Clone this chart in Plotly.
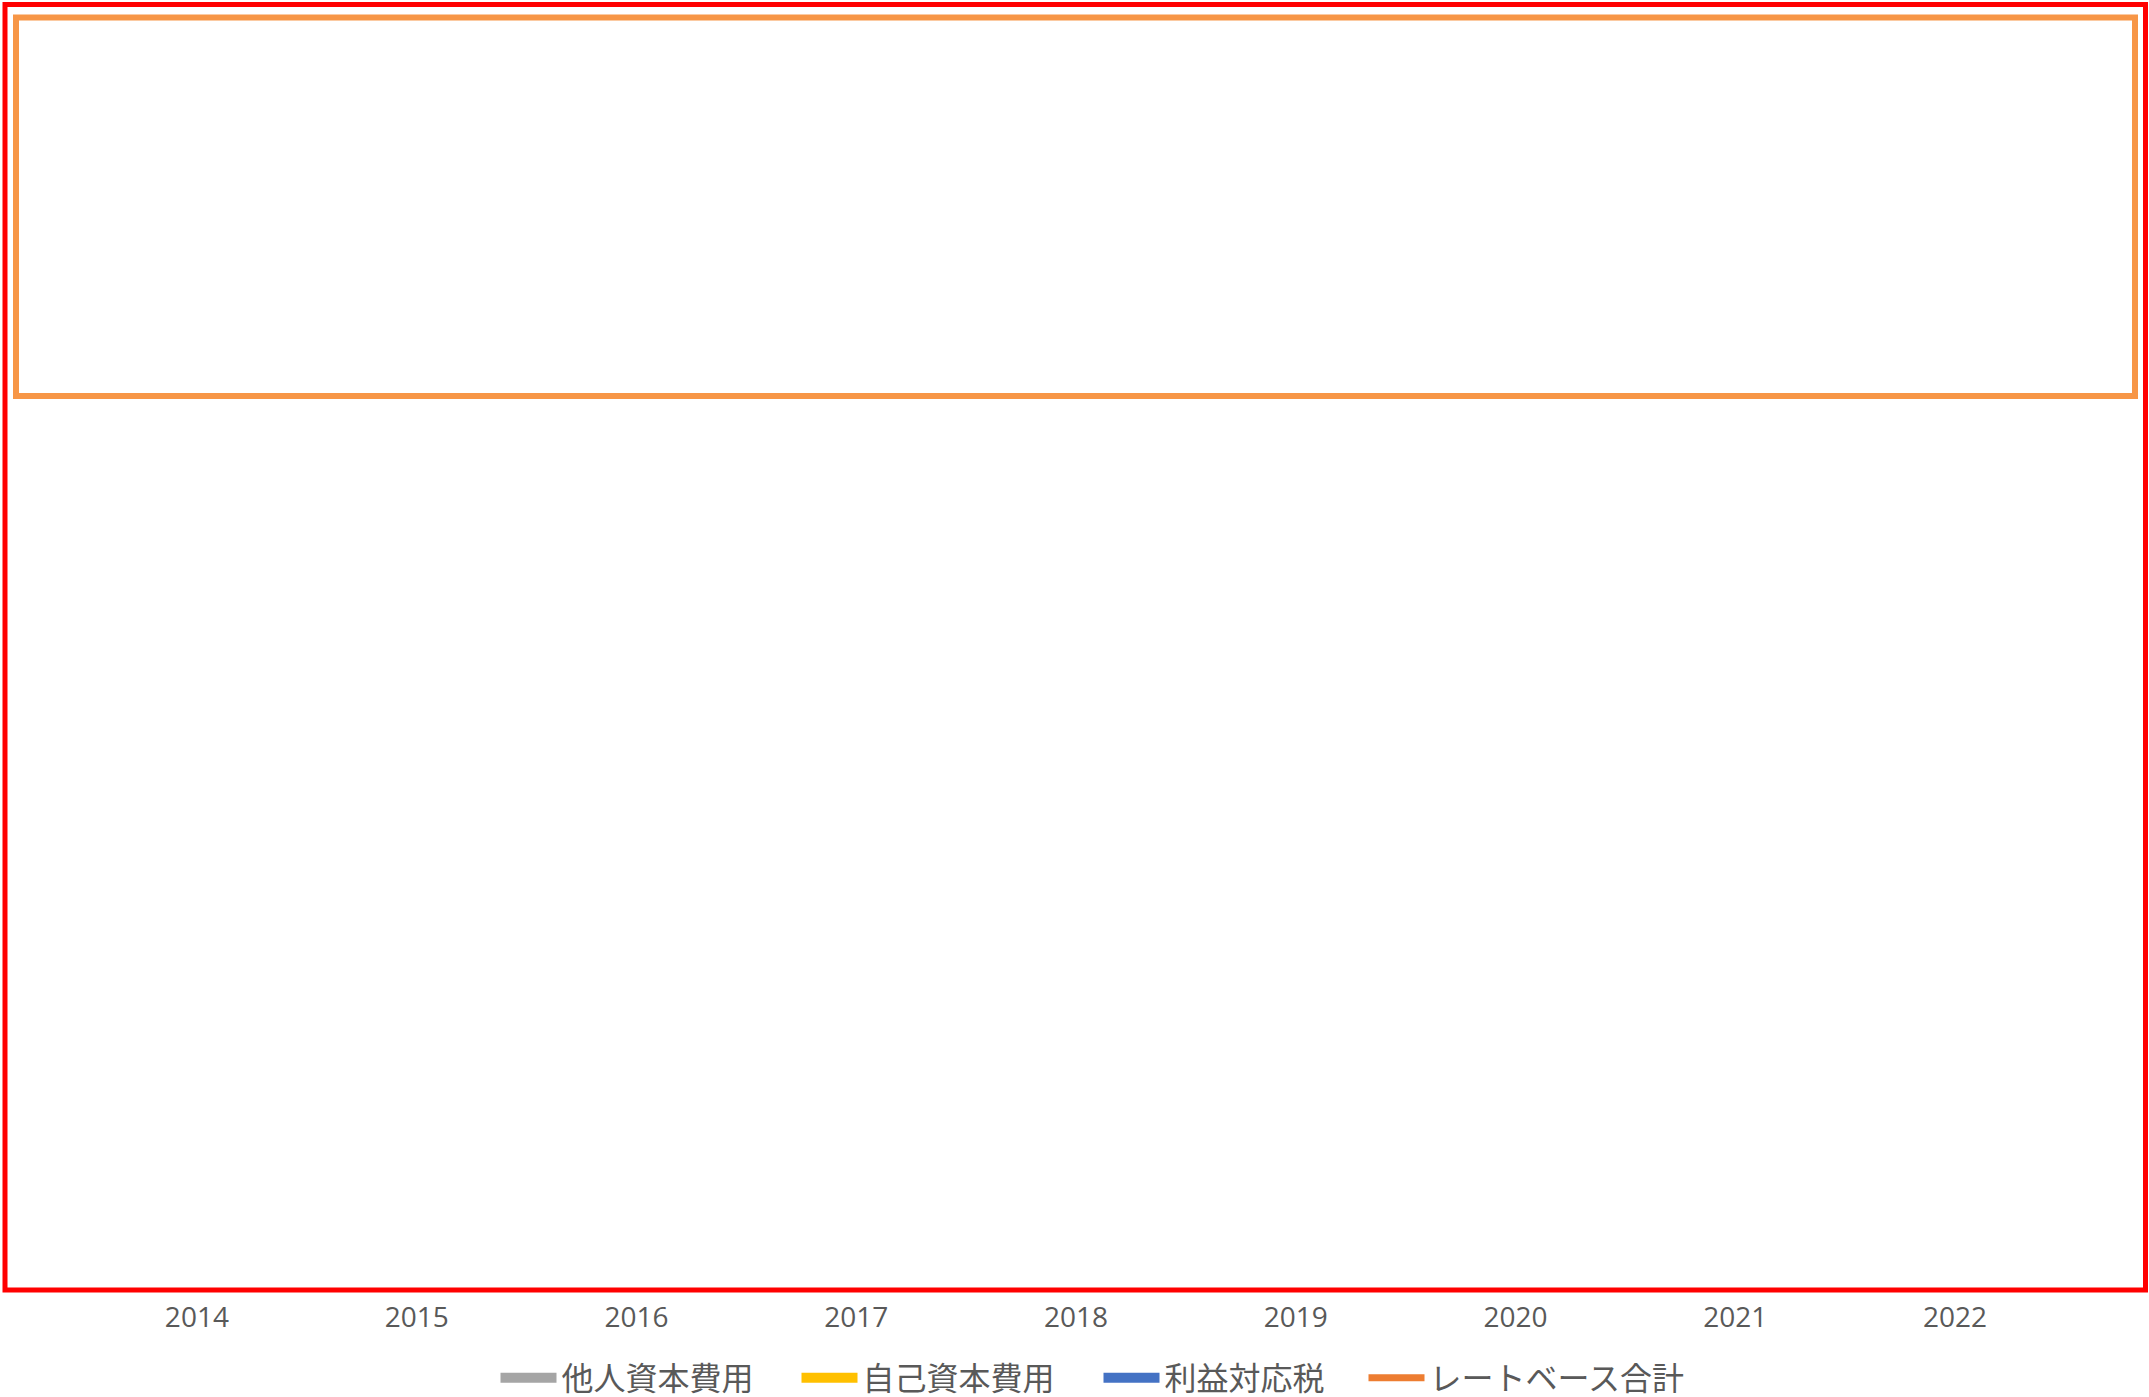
import plotly.graph_objects as go

# ---- data (reference shows no visible data marks) ----
years = ["2014", "2015", "2016", "2017", "2018", "2019", "2020", "2021", "2022"]
debt_cost = [None] * 9       # 他人資本費用
equity_cost = [None] * 9     # 自己資本費用
income_tax = [None] * 9      # 利益対応税
rate_base = [None] * 9       # レートベース合計

series_names = ["他人資本費用", "自己資本費用", "利益対応税", "レートベース合計"]
colors = ["#A5A5A5", "#FFC000", "#4472C4", "#ED7D31"]

W, H = 2149, 1397
PL, PR, PT, PB = 87, 2065, 4, 1290  # plot area in pixels


def px(x):
    return (x - PL) / (PR - PL)


def py(y):
    return (PB - y) / (PB - PT)


legend_ids = ["legend", "legend2", "legend3", "legend4"]
legend_starts = [500, 801, 1103, 1368]  # pixel x of each legend swatch

fig = go.Figure()
for name, vals, c in zip(series_names[:3], [debt_cost, equity_cost, income_tax], colors[:3]):
    fig.add_trace(go.Bar(x=years, y=vals, name=name, marker_color=c,
                         showlegend=False, legendgroup=name))
fig.add_trace(go.Scatter(x=years, y=rate_base, name=series_names[3], mode="lines",
                         line=dict(color=colors[3], width=5), showlegend=False,
                         legendgroup=series_names[3]))

# legend proxies (wide swatches as in the reference), one legend box per entry
for i, (name, c) in enumerate(zip(series_names, colors)):
    fig.add_trace(go.Scatter(x=[None], y=[None], name=name, mode="lines",
                             legendgroup=name, legend=legend_ids[i],
                             line=dict(color=c, width=7 if i == 3 else 13)))

# annotation rectangles
fig.add_shape(type="rect", xref="paper", yref="paper",
              x0=px(5), x1=px(2145.5), y0=py(1290), y1=py(4.5),
              line=dict(color="#FF0000", width=5), fillcolor="rgba(0,0,0,0)")
fig.add_shape(type="rect", xref="paper", yref="paper",
              x0=px(16), x1=px(2135), y0=py(396), y1=py(17.5),
              line=dict(color="#F79646", width=6), fillcolor="rgba(0,0,0,0)")

legend_style = dict(orientation="h", xanchor="left", y=py(1378), yanchor="middle",
                    font=dict(family="Noto Sans CJK JP", size=32, color="#595959"),
                    itemwidth=57, bgcolor="rgba(0,0,0,0)",
                    borderwidth=6, bordercolor="rgba(0,0,0,0)",
                    entrywidth=320, entrywidthmode="pixels")
legends = {lid: dict(legend_style, x=px(s - 5.5)) for lid, s in zip(legend_ids, legend_starts)}

fig.update_layout(
    width=W, height=H,
    margin=dict(l=PL, r=W - PR, t=PT, b=H - PB, pad=0, autoexpand=False),
    paper_bgcolor="white", plot_bgcolor="white",
    barmode="stack",
    font=dict(family="Open Sans, Noto Sans CJK JP", color="#595959", size=28),
    xaxis=dict(type="category", range=[-0.5, 8.5], showgrid=False, zeroline=False,
               showline=False, ticks="", ticklabelstandoff=8,
               tickfont=dict(size=28, color="#595959")),
    yaxis=dict(visible=False, range=[0, 1], fixedrange=True),
    showlegend=True,
    **legends,
)

fig.write_html("out.html")
